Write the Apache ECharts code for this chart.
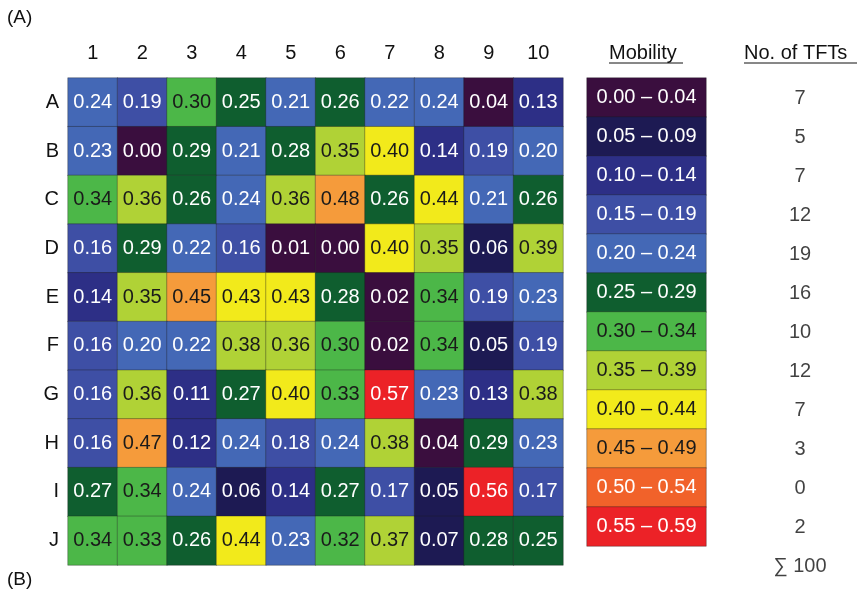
<!DOCTYPE html>
<html>
<head>
<meta charset="utf-8">
<script src="https://cdn.jsdelivr.net/npm/echarts@6/dist/echarts.min.js"></script>
<style>
  html, body { margin: 0; padding: 0; background: #fff; }
  #chart { width: 861px; height: 592px; }
</style>
</head>
<body>
<div id="chart"></div>
<script>
  // column / row labels of the TFT array
  var cols = ['1', '2', '3', '4', '5', '6', '7', '8', '9', '10']
  var rows = ['A', 'B', 'C', 'D', 'E', 'F', 'G', 'H', 'I', 'J']

  // mobility values, one array per row
  var rowA = [0.24, 0.19, 0.30, 0.25, 0.21, 0.26, 0.22, 0.24, 0.04, 0.13]
  var rowB = [0.23, 0.00, 0.29, 0.21, 0.28, 0.35, 0.40, 0.14, 0.19, 0.20]
  var rowC = [0.34, 0.36, 0.26, 0.24, 0.36, 0.48, 0.26, 0.44, 0.21, 0.26]
  var rowD = [0.16, 0.29, 0.22, 0.16, 0.01, 0.00, 0.40, 0.35, 0.06, 0.39]
  var rowE = [0.14, 0.35, 0.45, 0.43, 0.43, 0.28, 0.02, 0.34, 0.19, 0.23]
  var rowF = [0.16, 0.20, 0.22, 0.38, 0.36, 0.30, 0.02, 0.34, 0.05, 0.19]
  var rowG = [0.16, 0.36, 0.11, 0.27, 0.40, 0.33, 0.57, 0.23, 0.13, 0.38]
  var rowH = [0.16, 0.47, 0.12, 0.24, 0.18, 0.24, 0.38, 0.04, 0.29, 0.23]
  var rowI = [0.27, 0.34, 0.24, 0.06, 0.14, 0.27, 0.17, 0.05, 0.56, 0.17]
  var rowJ = [0.34, 0.33, 0.26, 0.44, 0.23, 0.32, 0.37, 0.07, 0.28, 0.25]

  // mobility bins (legend) and TFT counts per bin
  var binLabels = ['0.00 – 0.04', '0.05 – 0.09', '0.10 – 0.14', '0.15 – 0.19', '0.20 – 0.24', '0.25 – 0.29',
    '0.30 – 0.34', '0.35 – 0.39', '0.40 – 0.44', '0.45 – 0.49', '0.50 – 0.54', '0.55 – 0.59']
  var binLows = [0.00, 0.05, 0.10, 0.15, 0.20, 0.25, 0.30, 0.35, 0.40, 0.45, 0.50, 0.55]
  var binHighs = [0.04, 0.09, 0.14, 0.19, 0.24, 0.29, 0.34, 0.39, 0.44, 0.49, 0.54, 0.59]
  var tftCounts = [7, 5, 7, 12, 19, 16, 10, 12, 7, 3, 0, 2]

  var binColors = ['#3a0e3e', '#1d1a53', '#2d2f86', '#3e4fa5', '#4468b6', '#0f5e2f',
    '#4cb748', '#b0d236', '#f2ea1b', '#f59b3b', '#f1622a', '#ec2227']
  var binText = ['#fff', '#fff', '#fff', '#fff', '#fff', '#fff',
    '#1a1a1a', '#1a1a1a', '#1a1a1a', '#1a1a1a', '#fff', '#fff']

  var font = 'Liberation Sans'
  var grid = [rowA, rowB, rowC, rowD, rowE, rowF, rowG, rowH, rowI, rowJ]

  function binOf(v) {
    for (var i = 0; i < binLows.length; i++) {
      if (v <= binHighs[i] + 0.0001) return i
    }
    return binLows.length - 1
  }

  var cellData = []
  grid.forEach(function (r, ri) {
    r.forEach(function (v, ci) {
      cellData.push({ value: [ci, ri, v], label: { color: binText[binOf(v)] } })
    })
  })

  var legendData = binLows.map(function (lo, i) {
    return { value: [0, i, lo], label: { color: binText[i] } }
  })

  var countRows = binLabels.concat(['sum'])
  var total = tftCounts.reduce(function (a, b) { return a + b }, 0)
  var countData = tftCounts.map(function (c, i) { return [0, i, String(c)] })
  countData.push([0, binLabels.length, '∑ ' + total])

  var pieces = binLows.map(function (lo, i) {
    return { gte: lo - 0.005, lt: binHighs[i] + 0.005, color: binColors[i] }
  })

  var chart = echarts.init(document.getElementById('chart'))
  chart.setOption({
    animation: false,
    textStyle: { fontFamily: font },
    grid: [
      { left: 68, top: 78, width: 495, height: 487 },
      { left: 587, top: 78, width: 119, height: 468 },
      { left: 760, top: 79, width: 80, height: 507 }
    ],
    xAxis: [
      {
        gridIndex: 0, type: 'category', data: cols, position: 'top',
        axisLine: { show: false }, axisTick: { show: false },
        axisLabel: { fontSize: 20, color: '#111', margin: 15, fontFamily: font }
      },
      { gridIndex: 1, type: 'category', data: [''], show: false },
      { gridIndex: 2, type: 'category', data: [''], show: false }
    ],
    yAxis: [
      {
        gridIndex: 0, type: 'category', data: rows, inverse: true,
        axisLine: { show: false }, axisTick: { show: false },
        axisLabel: { fontSize: 20, color: '#111', margin: 9, fontFamily: font }
      },
      { gridIndex: 1, type: 'category', data: binLabels, inverse: true, show: false },
      { gridIndex: 2, type: 'category', data: countRows, inverse: true, show: false }
    ],
    visualMap: {
      type: 'piecewise', show: false, seriesIndex: [0, 1], dimension: 2,
      pieces: pieces
    },
    series: [
      {
        type: 'heatmap', xAxisIndex: 0, yAxisIndex: 0, data: cellData,
        itemStyle: { borderColor: 'rgba(30,30,30,0.35)', borderWidth: 1 },
        label: {
          show: true, fontSize: 20, fontFamily: font,
          formatter: function (p) { return p.value[2].toFixed(2) }
        },
        emphasis: { disabled: true }
      },
      {
        type: 'heatmap', xAxisIndex: 1, yAxisIndex: 1, data: legendData,
        itemStyle: { borderColor: 'rgba(30,30,30,0.35)', borderWidth: 1 },
        label: {
          show: true, fontSize: 20, fontFamily: font,
          formatter: function (p) { return binLabels[p.value[1]] }
        },
        emphasis: { disabled: true }
      },
      {
        type: 'scatter', xAxisIndex: 2, yAxisIndex: 2, data: countData,
        symbolSize: 0,
        label: {
          show: true, position: 'inside', fontSize: 20, color: '#111', fontFamily: font,
          formatter: function (p) { return p.value[2] }
        }
      }
    ],
    graphic: [
      { type: 'text', left: 7, top: 8, style: { text: '(A)', fontSize: 19, fill: '#111', fontFamily: font } },
      { type: 'text', left: 7, top: 570, style: { text: '(B)', fontSize: 19, fill: '#111', fontFamily: font } },
      { type: 'text', left: 609, top: 43, style: { text: 'Mobility', fontSize: 20, fill: '#111', fontFamily: font } },
      { type: 'line', shape: { x1: 609, y1: 63, x2: 683, y2: 63 }, style: { stroke: '#111', lineWidth: 1 } },
      { type: 'text', left: 744, top: 43, style: { text: 'No. of TFTs', fontSize: 20, fill: '#111', fontFamily: font } },
      { type: 'line', shape: { x1: 744, y1: 63, x2: 857, y2: 63 }, style: { stroke: '#111', lineWidth: 1 } }
    ]
  })
</script>
</body>
</html>
